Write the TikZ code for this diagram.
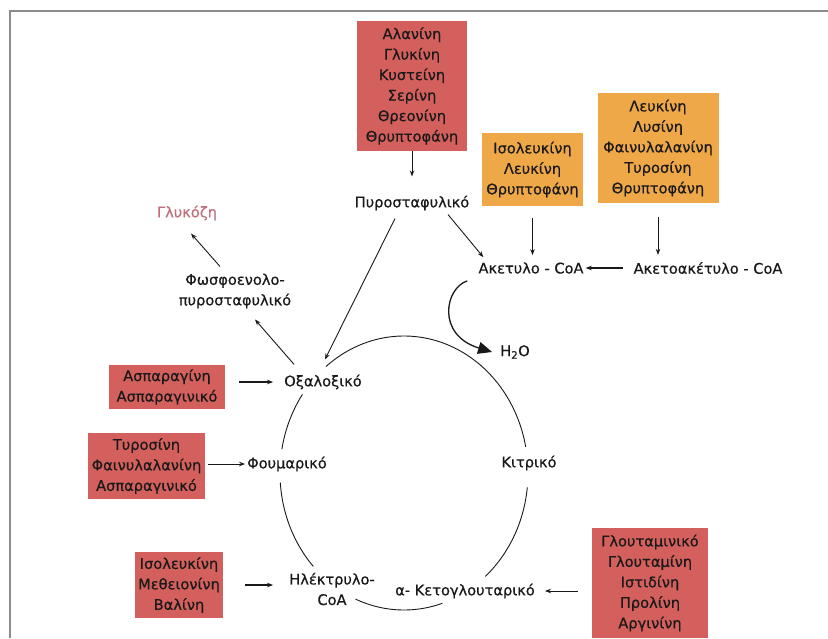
\documentclass[tikz,border=0pt]{standalone}
\usepackage{fontspec}
\setmainfont{DejaVu Sans}[FakeBold=0.5]
\usetikzlibrary{arrows.meta}
\definecolor{boxred}{RGB}{212,96,93}
\definecolor{boxorange}{RGB}{239,168,72}
\definecolor{ink}{RGB}{25,25,25}
\definecolor{glucose}{RGB}{190,112,124}
\definecolor{framegray}{RGB}{140,140,140}
\begin{document}
\begin{tikzpicture}[x=1pt,y=-1pt,
  every node/.style={font=\fontsize{14.6}{20.5}\selectfont, text=ink, align=center, inner sep=0pt},
  aminobox/.style={fill=boxred},
  orangebox/.style={fill=boxorange},
  conn/.style={draw=ink, line width=0.9pt, -{Stealth[length=6pt,width=4.5pt]}},
  ring/.style={draw=ink, line width=0.9pt},
  bigconn/.style={draw=ink, line width=1.3pt, -{Triangle[length=14pt,width=12pt]}}]
\useasboundingbox (0,0) rectangle (828,638);
\fill[white] (0,0) rectangle (828,638);
\draw[framegray, line width=2pt] (10,638) -- (10,11) -- (828,11);

% amino acid boxes
\node[aminobox, minimum width=110pt, minimum height=130pt] (bAla) at (412,86)
  {Αλανίνη\\Γλυκίνη\\Κυστείνη\\Σερίνη\\Θρεονίνη\\Θρυπτοφάνη};
\node[orangebox, minimum width=101pt, minimum height=73pt] (bIle) at (532.5,169.5)
  {Ισολευκίνη\\Λευκίνη\\Θρυπτοφάνη};
\node[orangebox, minimum width=121pt, minimum height=110pt] (bLeu) at (658,148)
  {Λευκίνη\\Λυσίνη\\Φαινυλαλανίνη\\Τυροσίνη\\Θρυπτοφάνη};
\node[aminobox, minimum width=116pt, minimum height=44pt] (bAsp) at (167,387)
  {Ασπαραγίνη\\Ασπαραγινικό};
\node[aminobox, minimum width=117pt, minimum height=66pt] (bTyr) at (146.5,466)
  {Τυροσίνη\\Φαινυλαλανίνη\\Ασπαραγινικό};
\node[aminobox, minimum width=88pt, minimum height=66pt] (bIso) at (179,585)
  {Ισολευκίνη\\Μεθειονίνη\\Βαλίνη};
\node[aminobox, minimum width=116pt, minimum height=110pt] (bGlu) at (650,583)
  {Γλουταμινικό\\Γλουταμίνη\\Ιστιδίνη\\Προλίνη\\Αργινίνη};

% metabolites
\node (pyr) at (412,203) {Πυροσταφυλικό};
\node (acc) at (531,268) {Ακετυλο - CoA};
\node (acac) at (708,268) {Ακετοακέτυλο - CoA};
\node (h2o) at (515,352) {H\textsubscript{2}O};
\node (pep) at (235,291) {Φωσφοενολο-\\πυροσταφυλικό};
\node[text=glucose] (glc) at (187,213) {Γλυκόζη};
\node (oxa) at (323,382) {Οξαλοξικό};
\node (fum) at (287,464) {Φουμαρικό};
\node (cit) at (529,463) {Κιτρικό};
\node (suc) at (332,589) {Ηλέκτρυλο-\\CoA};
\node (akg) at (465,591) {α- Κετογλουταρικό};

% cycle ring
\draw[ring] plot[domain=231:349, samples=60, smooth] ({404+124*cos(\x)},{473+137*sin(\x)});
\draw[ring] plot[domain=6:49, samples=30, smooth] ({404+124*cos(\x)},{473+137*sin(\x)});
\draw[ring] plot[domain=72:113, samples=30, smooth] ({404+124*cos(\x)},{473+137*sin(\x)});
\draw[ring] plot[domain=137:176, samples=30, smooth] ({404+124*cos(\x)},{473+137*sin(\x)});
\draw[ring] plot[domain=190:215, samples=30, smooth] ({404+124*cos(\x)},{473+137*sin(\x)});

% connectors
\draw[conn, shorten >=19pt] (bAla.south) -- (pyr.north);
\draw[conn, shorten <=12pt, shorten >=7pt] (bIle.south) -- (bIle.south |- acc.north);
\draw[conn, shorten <=14pt, shorten >=7pt] (bLeu.south) -- (bLeu.south |- acac.north);
\draw[conn, line width=1.4pt, shorten <=10pt, shorten >=2pt] (acac.west) -- (acc.east);
\draw[conn] ([xshift=36pt,yshift=-4pt]pyr.south) -- ([xshift=5pt,yshift=5pt]acc.north west);
\draw[conn] ([xshift=-17pt,yshift=-8pt]pyr.south) -- ([xshift=2pt,yshift=15pt]oxa.north);
\draw[conn] ([xshift=10pt,yshift=10pt]oxa.north west) -- ([xshift=20pt,yshift=-11pt]pep.south);
\draw[conn] ([xshift=-15pt,yshift=7pt]pep.north) -- ([xshift=4pt,yshift=-13pt]glc.south);
\draw[bigconn] ([xshift=-11pt,yshift=-7pt]acc.south west) .. controls (445,288) and (436,335) .. ([xshift=-8pt]h2o.west);
\draw[conn, line width=1.2pt, shorten <=14pt, shorten >=11pt] (bAsp.east |- oxa.west) -- (oxa.west);
\draw[conn, shorten <=3pt, shorten >=2pt] (bTyr.east |- fum.west) -- (fum.west);
\draw[conn, line width=1.2pt, shorten <=22pt, shorten >=16pt] (bIso.east) -- (bIso.east -| suc.west);
\draw[conn, shorten <=14pt, shorten >=10pt] (bGlu.west |- akg.east) -- (akg.east);
\end{tikzpicture}
\end{document}
